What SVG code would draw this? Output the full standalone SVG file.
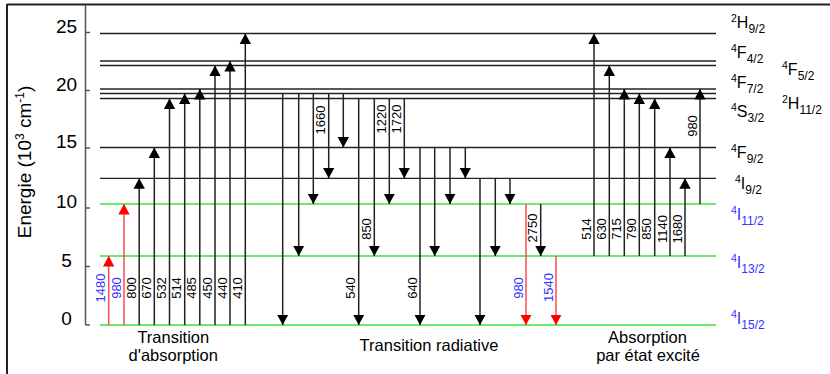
<svg xmlns="http://www.w3.org/2000/svg" width="830" height="374" viewBox="0 0 830 374">
<defs>
<marker id="ah" markerUnits="userSpaceOnUse" markerWidth="12" markerHeight="12" refX="10.5" refY="6" orient="auto"><path d="M0,0.3 L10.5,6 L0,11.7 z" fill="#000"/></marker>
<marker id="ahr" markerUnits="userSpaceOnUse" markerWidth="12" markerHeight="12" refX="10.5" refY="6" orient="auto"><path d="M0,0.3 L10.5,6 L0,11.7 z" fill="#ff0000"/></marker>
</defs>
<style>
text{font-family:"Liberation Sans",Arial,sans-serif;fill:#000}
.frame{stroke:#222;stroke-width:2;fill:none}
.axis{stroke:#555;stroke-width:1.5;fill:none}
.lv{stroke:#222;stroke-width:1.3}
.gr{stroke:#3ee03e;stroke-width:1.6}
.ar{stroke:#222;stroke-width:1.5;marker-end:url(#ah)}
.arr{stroke:#ff4a4a;stroke-width:1.5;marker-end:url(#ahr)}
.n{font-size:13px}
.nb{font-size:13px;fill:#3333ff}
.tick{font-size:19px}
.cap{font-size:16.5px}
.lab{font-size:16px}
.s{font-size:10.5px}
.b{font-size:12px}
.blue,.blue tspan{fill:#3333ff}
</style>

<!-- frame and axis -->
<g id="frame">
<line class="frame" x1="7" y1="4.5" x2="830" y2="4.5"/>
<line class="frame" x1="7" y1="4" x2="7" y2="374"/>
</g>
<g id="axis">
<line class="axis" x1="85.5" y1="5" x2="85.5" y2="325"/>
<line class="axis" x1="85.5" y1="325" x2="90" y2="325"/>
<line class="axis" x1="85.5" y1="266.5" x2="90" y2="266.5"/>
<line class="axis" x1="85.5" y1="208" x2="90" y2="208"/>
<line class="axis" x1="85.5" y1="148" x2="90" y2="148"/>
<line class="axis" x1="85.5" y1="90.5" x2="90" y2="90.5"/>
<line class="axis" x1="85.5" y1="32.5" x2="90" y2="32.5"/>
<g class="tick" text-anchor="middle">
<text class="tick" x="66.5" y="325">0</text>
<text class="tick" x="66.5" y="266.5">5</text>
<text class="tick" x="66.5" y="208">10</text>
<text class="tick" x="66.5" y="148">15</text>
<text class="tick" x="66.5" y="90.5">20</text>
<text class="tick" x="66.5" y="32.5">25</text>
</g>
<text class="tick" text-anchor="middle" transform="translate(31,162) rotate(-90)">Energie (10<tspan font-size="12" dy="-7">3</tspan><tspan dy="7"> cm</tspan><tspan font-size="12" dy="-7">-1</tspan><tspan dy="7">)</tspan></text>
</g>

<!-- energy levels -->
<g id="lvl-2H9_2"><line class="lv" x1="100" y1="33.5" x2="716" y2="33.5"/>
<text class="lab" x="731" y="28"><tspan class="s" dy="-6">2</tspan><tspan dy="6">H</tspan><tspan class="b" dy="5">9/2</tspan></text></g>
<g id="lvl-4F3_2"><line class="lv" x1="100" y1="61" x2="716" y2="61"/>
<text class="lab" x="731" y="58"><tspan class="s" dy="-6">4</tspan><tspan dy="6">F</tspan><tspan class="b" dy="5">4/2</tspan></text></g>
<g id="lvl-4F5_2"><line class="lv" x1="100" y1="65.5" x2="716" y2="65.5"/>
<text class="lab" x="782" y="75"><tspan class="s" dy="-6">4</tspan><tspan dy="6">F</tspan><tspan class="b" dy="5">5/2</tspan></text></g>
<g id="lvl-4F7_2"><line class="lv" x1="100" y1="89" x2="716" y2="89"/>
<text class="lab" x="731" y="88"><tspan class="s" dy="-6">4</tspan><tspan dy="6">F</tspan><tspan class="b" dy="5">7/2</tspan></text></g>
<g id="lvl-2H11_2"><line class="lv" x1="100" y1="93.5" x2="716" y2="93.5"/>
<text class="lab" x="782" y="109"><tspan class="s" dy="-6">2</tspan><tspan dy="6">H</tspan><tspan class="b" dy="5">11/2</tspan></text></g>
<g id="lvl-4S3_2"><line class="lv" x1="100" y1="98.5" x2="716" y2="98.5"/>
<text class="lab" x="731" y="117"><tspan class="s" dy="-6">4</tspan><tspan dy="6">S</tspan><tspan class="b" dy="5">3/2</tspan></text></g>
<g id="lvl-4F9_2"><line class="lv" x1="100" y1="147.5" x2="716" y2="147.5"/>
<text class="lab" x="731" y="158"><tspan class="s" dy="-6">4</tspan><tspan dy="6">F</tspan><tspan class="b" dy="5">9/2</tspan></text></g>
<g id="lvl-4I9_2"><line class="lv" x1="100" y1="178.3" x2="716" y2="178.3"/>
<text class="lab" x="735" y="189"><tspan class="s" dy="-6">4</tspan><tspan dy="6">I</tspan><tspan class="b" dy="5">9/2</tspan></text></g>
<g id="lvl-4I11_2"><line class="gr" x1="100" y1="204" x2="716" y2="204"/>
<text class="lab blue" x="731" y="220"><tspan class="s" dy="-6">4</tspan><tspan dy="6">I</tspan><tspan class="b" dy="5">11/2</tspan></text></g>
<g id="lvl-4I13_2"><line class="gr" x1="100" y1="256" x2="716" y2="256"/>
<text class="lab blue" x="731" y="268"><tspan class="s" dy="-6">4</tspan><tspan dy="6">I</tspan><tspan class="b" dy="5">13/2</tspan></text></g>
<g id="lvl-4I15_2"><line class="gr" x1="100" y1="325" x2="716" y2="325"/>
<text class="lab blue" x="731" y="324"><tspan class="s" dy="-6">4</tspan><tspan dy="6">I</tspan><tspan class="b" dy="5">15/2</tspan></text></g>

<!-- connectors (transitions) -->
<g id="connectors">
<!-- absorption -->
<line class="arr" x1="108.7" y1="325" x2="108.7" y2="256"/>
<line class="arr" x1="124" y1="325" x2="124" y2="204"/>
<line class="ar" x1="139.2" y1="325" x2="139.2" y2="178.3"/>
<line class="ar" x1="154.3" y1="325" x2="154.3" y2="147.5"/>
<line class="ar" x1="169.5" y1="325" x2="169.5" y2="98.5"/>
<line class="ar" x1="184.7" y1="325" x2="184.7" y2="93.5"/>
<line class="ar" x1="199.8" y1="325" x2="199.8" y2="89"/>
<line class="ar" x1="215" y1="325" x2="215" y2="65.5"/>
<line class="ar" x1="230" y1="325" x2="230" y2="61"/>
<line class="ar" x1="245.3" y1="325" x2="245.3" y2="33.5"/>
<!-- radiative -->
<line class="ar" x1="282.7" y1="93.5" x2="282.7" y2="325"/>
<line class="ar" x1="298.7" y1="93.5" x2="298.7" y2="256"/>
<line class="ar" x1="313.3" y1="93.5" x2="313.3" y2="204"/>
<line class="ar" x1="328.7" y1="93.5" x2="328.7" y2="178.3"/>
<line class="ar" x1="343.3" y1="93.5" x2="343.3" y2="147.5"/>
<line class="ar" x1="358.7" y1="98.5" x2="358.7" y2="325"/>
<line class="ar" x1="374.3" y1="98.5" x2="374.3" y2="256"/>
<line class="ar" x1="389.3" y1="98.5" x2="389.3" y2="204"/>
<line class="ar" x1="404.3" y1="98.5" x2="404.3" y2="178.3"/>
<line class="ar" x1="420" y1="147.5" x2="420" y2="325"/>
<line class="ar" x1="434.7" y1="147.5" x2="434.7" y2="256"/>
<line class="ar" x1="450" y1="147.5" x2="450" y2="204"/>
<line class="ar" x1="465.3" y1="147.5" x2="465.3" y2="178.3"/>
<line class="ar" x1="480" y1="178.3" x2="480" y2="325"/>
<line class="ar" x1="495.3" y1="178.3" x2="495.3" y2="256"/>
<line class="ar" x1="510" y1="178.3" x2="510" y2="204"/>
<line class="arr" x1="526" y1="204" x2="526" y2="325"/>
<line class="ar" x1="540.7" y1="204" x2="540.7" y2="256"/>
<line class="arr" x1="556" y1="256" x2="556" y2="325"/>
<!-- excited state absorption -->
<line class="ar" x1="594" y1="256" x2="594" y2="33.5"/>
<line class="ar" x1="609.3" y1="256" x2="609.3" y2="65.5"/>
<line class="ar" x1="624.3" y1="256" x2="624.3" y2="89"/>
<line class="ar" x1="639.3" y1="256" x2="639.3" y2="93.5"/>
<line class="ar" x1="654.7" y1="256" x2="654.7" y2="98.5"/>
<line class="ar" x1="670" y1="256" x2="670" y2="147.5"/>
<line class="ar" x1="685" y1="256" x2="685" y2="178.3"/>
<line class="ar" x1="700" y1="204" x2="700" y2="89"/>
</g>

<!-- transition labels -->
<g id="transition-labels" text-anchor="middle">
<text class="nb" transform="translate(105.2,288) rotate(-90)">1480</text>
<text class="nb" transform="translate(120.5,288) rotate(-90)">980</text>
<text class="n" transform="translate(135.7,288) rotate(-90)">800</text>
<text class="n" transform="translate(150.8,288) rotate(-90)">670</text>
<text class="n" transform="translate(166,288) rotate(-90)">532</text>
<text class="n" transform="translate(181.2,288) rotate(-90)">514</text>
<text class="n" transform="translate(196.3,288) rotate(-90)">485</text>
<text class="n" transform="translate(211.5,288) rotate(-90)">450</text>
<text class="n" transform="translate(226.5,288) rotate(-90)">440</text>
<text class="n" transform="translate(241.8,288) rotate(-90)">410</text>

<text class="n" transform="translate(325.2,120) rotate(-90)">1660</text>
<text class="n" transform="translate(355.2,288) rotate(-90)">540</text>
<text class="n" transform="translate(370.8,229) rotate(-90)">850</text>
<text class="n" transform="translate(385.8,119) rotate(-90)">1220</text>
<text class="n" transform="translate(400.8,119) rotate(-90)">1720</text>
<text class="n" transform="translate(416.5,288) rotate(-90)">640</text>
<text class="nb" transform="translate(522.5,288) rotate(-90)">980</text>
<text class="n" transform="translate(537.2,228) rotate(-90)">2750</text>
<text class="nb" transform="translate(552.5,287.5) rotate(-90)">1540</text>

<text class="n" transform="translate(590.5,229) rotate(-90)">514</text>
<text class="n" transform="translate(605.8,229) rotate(-90)">630</text>
<text class="n" transform="translate(620.8,229) rotate(-90)">715</text>
<text class="n" transform="translate(635.8,229) rotate(-90)">790</text>
<text class="n" transform="translate(651.2,229) rotate(-90)">850</text>
<text class="n" transform="translate(666.5,229) rotate(-90)">1140</text>
<text class="n" transform="translate(681.5,229) rotate(-90)">1680</text>
<text class="n" transform="translate(696.5,126) rotate(-90)">980</text>
</g>

<!-- captions -->
<g id="captions" text-anchor="middle">
<text class="cap" x="173.3" y="342.5">Transition</text>
<text class="cap" x="173.3" y="360.5">d'absorption</text>
<text class="cap" x="429" y="351">Transition radiative</text>
<text class="cap" x="647.5" y="342.5">Absorption</text>
<text class="cap" x="648" y="360.5">par état excité</text>
</g>
</svg>
